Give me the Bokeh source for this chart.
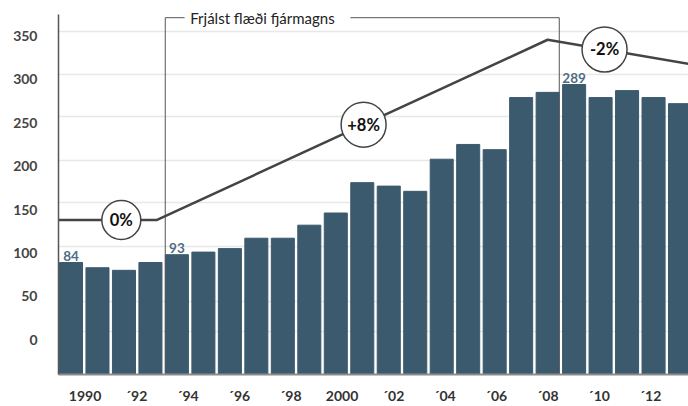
import numpy as np
from bokeh.plotting import figure
from bokeh.models import Range1d, FixedTicker
from bokeh.core.properties import value
from bokeh.embed import file_html
from bokeh.resources import INLINE

# ---- data ----
years = list(range(1990, 2014))
values = [84, 78, 75, 84, 93, 96, 100, 112, 112, 127, 141, 176, 172, 166,
          203, 220, 214, 274, 280, 289, 274, 282, 274, 267]
labeled_years = [1990, 1994, 2009]

# growth index line (break points)
idx_x = [1989.5, 1993.25, 2008.0, 2013.5]
idx_y = [133, 133, 340.6, 312]
pct_x = [1991.9, 2001.05, 2010.15]
pct_text = ["0%", "+8%", "-2%"]

ytick_vals = [0, 50, 100, 150, 200, 250, 300, 350]
grid_vals = [4, 39, 103, 153, 202, 252, 301, 350]
xtick_years = list(range(1990, 2013, 2))
xtick_labels = ["1990", "´92", "´94", "´96", "´98", "2000", "´02", "´04", "´06", "´08", "´10", "´12"]

bracket_text = "Frjálst flæði fjármagns"
bracket_x0, bracket_x1, bracket_y = 1993.56, 2008.44, 366
bracket_gap = (1994.29, 2000.55)

BASE = -45
FONT = "Lato"

p = figure(width=688, height=406, output_backend="svg", toolbar_location=None,
           x_range=Range1d(1989.528, 2013.32), y_range=Range1d(BASE, 376.6),
           min_border_left=58, min_border_right=0, min_border_top=8, min_border_bottom=32)
p.outline_line_color = None
p.background_fill_color = "white"

# bars
p.vbar(x=years, top=values, bottom=BASE, width=0.87, color="#3c5a6d")

# value labels
lab_vals = [values[years.index(y)] for y in labeled_years]
p.text(x=labeled_years, y=lab_vals, text=[str(v) for v in lab_vals],
       text_align="center", text_baseline="bottom", y_offset=-2,
       text_font=value(FONT), text_font_size="13.5px", text_font_style="bold",
       text_color="#4f6e84")

# bracket
p.segment(x0=[bracket_x0, bracket_x1, bracket_x0, bracket_gap[1]],
          y0=[BASE, BASE, bracket_y, bracket_y],
          x1=[bracket_x0, bracket_x1, bracket_gap[0], bracket_x1],
          y1=[bracket_y, bracket_y, bracket_y, bracket_y],
          line_color="#555555", line_width=1)
p.text(x=[bracket_x0], y=[bracket_y], text=[bracket_text], x_offset=25,
       text_align="left", text_baseline="middle", text_font=value(FONT),
       text_font_size="15px", text_color="#222222")

# growth line
p.line(idx_x, idx_y, line_color="#444444", line_width=2.5)
pct_y = np.interp(pct_x, idx_x, idx_y)
p.scatter(x=pct_x, y=pct_y, marker="circle", size=[39, 45, 45],
          fill_color="white", line_color="#444444", line_width=1.5)
p.text(x=pct_x, y=pct_y, text=pct_text, text_align="center", text_baseline="middle",
       text_font=value(FONT), text_font_size="16.5px", text_font_style="bold",
       text_color="#111111")

# axes
p.xgrid.visible = False
p.ygrid.ticker = FixedTicker(ticks=grid_vals)
p.ygrid.grid_line_color = "#e8e8e8"
p.ygrid.grid_line_width = 1.5

p.yaxis.ticker = FixedTicker(ticks=[v - 5 for v in ytick_vals])
p.yaxis.major_label_overrides = {v - 5: str(v) for v in ytick_vals}
p.yaxis.bounds = (BASE, 369.5)
p.yaxis.axis_line_color = "#555555"
p.yaxis.axis_line_width = 1.5
p.yaxis.major_tick_line_color = None
p.yaxis.minor_tick_line_color = None
p.yaxis.major_label_standoff = 15
p.yaxis.major_label_text_font = FONT
p.yaxis.major_label_text_font_size = "14px"
p.yaxis.major_label_text_font_style = "bold"
p.yaxis.major_label_text_color = "#444444"

# x tick labels sit slightly right of the bar centres in the original
xtick_pos = [round(y + 0.53 - (y - 1990) * 0.0295, 3) for y in xtick_years]
p.xaxis.ticker = FixedTicker(ticks=xtick_pos)
p.xaxis.major_label_overrides = dict(zip(xtick_pos, xtick_labels))
p.xaxis.axis_line_color = "#8c8c8c"
p.xaxis.axis_line_width = 2
p.xaxis.major_tick_line_color = None
p.xaxis.minor_tick_line_color = None
p.xaxis.major_label_standoff = 6
p.xaxis.major_label_text_font = FONT
p.xaxis.major_label_text_font_size = "14px"
p.xaxis.major_label_text_font_style = "bold"
p.xaxis.major_label_text_color = "#333333"

open("out.html", "w").write(file_html(p, INLINE))
